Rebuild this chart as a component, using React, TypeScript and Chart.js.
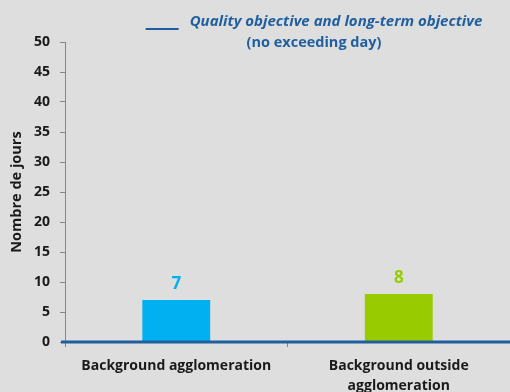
import React, { useEffect, useRef } from "react";
import { Chart, registerables } from "chart.js";

Chart.register(...registerables);

// Exceedance days per monitoring site type
const categories = ["Background agglomeration", "Background outside agglomeration"];
const tickLabels = [["Background agglomeration"], ["Background outside", "agglomeration"]];
const exceedingDays = [7, 8];
const barColors = ["#00b0f0", "#99cc00"];

// Objective: no exceeding day
const objectiveDays = 0;
const legendTitle = "Quality objective and long-term objective";
const legendSubtitle = "(no exceeding day)";
const yAxisTitle = "Nombre de jours";
const yMin = 0;
const yMax = 50;
const yStep = 5;

const FONT = "'Open Sans'";
const TEXT = "#1a1a1a";
const AXIS = "#868686";
const OBJECTIVE = "#1f5f9f";
const BG = "#dedede";

const W = 510;
const H = 392;

const backgroundPlugin = {
  id: "bg",
  beforeDraw(chart: any) {
    const { ctx } = chart;
    ctx.save();
    ctx.fillStyle = BG;
    ctx.fillRect(0, 0, chart.width, chart.height);
    ctx.restore();
  },
};

const objectivePlugin = {
  id: "objective",
  afterDatasetsDraw(chart: any) {
    const { ctx, chartArea, scales } = chart;
    const y = scales.y.getPixelForValue(objectiveDays);
    ctx.save();
    ctx.strokeStyle = OBJECTIVE;
    ctx.lineWidth = 3;
    ctx.beginPath();
    ctx.moveTo(chartArea.left - 4, y);
    ctx.lineTo(chart.width, y);
    ctx.stroke();
    ctx.restore();
  },
};

const valueLabelPlugin = {
  id: "valueLabels",
  afterDatasetsDraw(chart: any) {
    const { ctx } = chart;
    const meta = chart.getDatasetMeta(0);
    ctx.save();
    ctx.font = `bold 17px ${FONT}`;
    ctx.textAlign = "center";
    ctx.textBaseline = "middle";
    meta.data.forEach((bar: any, i: number) => {
      ctx.fillStyle = barColors[i];
      ctx.fillText(String(exceedingDays[i]), bar.x, bar.y - 16);
    });
    ctx.restore();
  },
};

const legendPlugin = {
  id: "objectiveLegend",
  afterDraw(chart: any) {
    const { ctx } = chart;
    const cx = 314;
    ctx.save();
    ctx.fillStyle = OBJECTIVE;
    ctx.strokeStyle = OBJECTIVE;
    ctx.textBaseline = "middle";
    ctx.font = `italic bold 15px ${FONT}`;
    const tw = ctx.measureText(legendTitle).width;
    const lineLen = 33;
    const gap = 11;
    const start = cx - (lineLen + gap + tw) / 2;
    ctx.lineWidth = 2;
    ctx.beginPath();
    ctx.moveTo(start, 29);
    ctx.lineTo(start + lineLen, 29);
    ctx.stroke();
    ctx.textAlign = "left";
    ctx.fillText(legendTitle, start + lineLen + gap, 22);
    ctx.font = `bold 14.5px ${FONT}`;
    ctx.textAlign = "center";
    ctx.fillText(legendSubtitle, cx, 43);
    ctx.restore();
  },
};

export default function App() {
  const canvasRef = useRef<HTMLCanvasElement | null>(null);

  useEffect(() => {
    document.body.style.margin = "0";
    document.body.style.background = BG;
    const canvas = canvasRef.current;
    if (!canvas) return;
    const chart = new Chart(canvas, {
      type: "bar",
      data: {
        labels: tickLabels as any,
        datasets: [
          {
            label: "Nombre de jours de dépassement",
            data: exceedingDays,
            backgroundColor: barColors,
            borderWidth: 0,
            categoryPercentage: 1,
            barPercentage: 0.305,
          },
        ],
      },
      options: {
        responsive: false,
        animation: false,
        devicePixelRatio: 1,
        layout: { padding: { top: 42, left: 0, right: 0, bottom: 0 } },
        plugins: {
          legend: { display: false },
          tooltip: { enabled: false },
          title: { display: false },
        },
        scales: {
          x: {
            offset: true,
            grid: {
              offset: true,
              drawOnChartArea: false,
              drawTicks: true,
              tickLength: 5,
              tickColor: AXIS,
              lineWidth: 1,
            },
            border: { color: AXIS, width: 1 },
            ticks: {
              color: TEXT,
              font: { family: FONT, size: 14, weight: "bold", lineHeight: 1.43 },
              padding: 9,
              maxRotation: 0,
              autoSkip: false,
            },
            afterFit(scale: any) {
              scale.height = 50;
            },
          },
          y: {
            min: yMin,
            max: yMax,
            ticks: {
              stepSize: yStep,
              color: TEXT,
              font: { family: FONT, size: 14, weight: "bold" },
              padding: 10,
            },
            grid: {
              drawOnChartArea: false,
              drawTicks: true,
              tickLength: 5,
              tickColor: AXIS,
            },
            border: { color: AXIS, width: 1 },
            title: {
              display: true,
              text: yAxisTitle,
              color: TEXT,
              font: { family: FONT, size: 14.5, weight: "bold" },
              padding: { top: 8, bottom: 0 },
            },
            afterFit(scale: any) {
              scale.width = 65;
            },
          },
        },
      },
      plugins: [backgroundPlugin, objectivePlugin, valueLabelPlugin, legendPlugin],
    });
    return () => chart.destroy();
  }, []);

  return (
    <div style={{ position: "fixed", left: 0, top: 0, width: W, height: H, background: BG }}>
      <canvas ref={canvasRef} width={W} height={H} style={{ display: "block" }} aria-label={categories.join(", ")} />
    </div>
  );
}
